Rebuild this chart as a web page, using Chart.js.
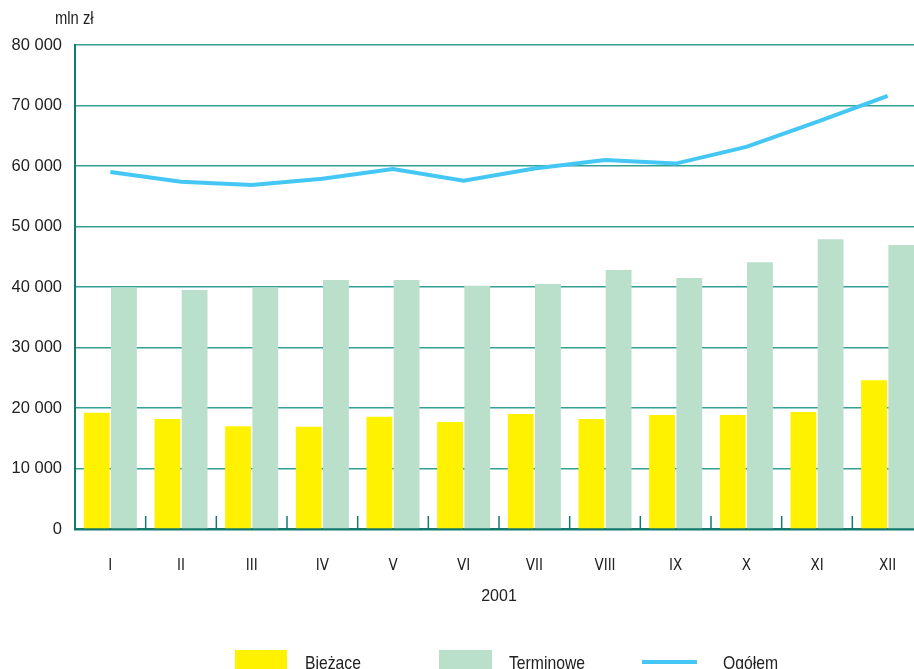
<!DOCTYPE html>
<html>
<head>
<meta charset="utf-8">
<script src="https://cdn.jsdelivr.net/npm/chart.js@4.4.1/dist/chart.umd.min.js"></script>
<style>
  html, body { margin: 0; padding: 0; background: #fff; overflow: hidden; }
  body { width: 914px; height: 669px; position: relative; }
  #wrap { position: absolute; left: 0; top: 0; width: 923px; height: 669px; }
  .narrow { font-family: "Liberation Sans", Arial, sans-serif; color: #222; transform: scaleX(0.82); transform-origin: left top; white-space: nowrap; }
  #unit { position: absolute; left: 55px; top: 9px; font-size: 18px; line-height: 18px; }
  .legend { position: absolute; top: 650px; height: 19px; }
  .ltext { position: absolute; top: 654px; font-size: 18.5px; line-height: 18px; transform: scaleX(0.85); }
</style>
</head>
<body>
<div id="wrap"><canvas id="chart"></canvas></div>
<div id="unit" class="narrow">mln zł</div>
<div class="legend" style="left:235px;width:52px;background:#fff200"></div>
<div class="ltext narrow" style="left:305px">Bieżące</div>
<div class="legend" style="left:439px;width:53px;background:#bae0cc"></div>
<div class="ltext narrow" style="left:509px">Terminowe</div>
<div class="legend" style="left:642px;width:55px;top:660px;height:4px;background:#44c7f4"></div>
<div class="ltext narrow" style="left:723px">Ogółem</div>
<script>
const months = ['I', 'II', 'III', 'IV', 'V', 'VI', 'VII', 'VIII', 'IX', 'X', 'XI', 'XII'];
const biezace = [19200, 18200, 17000, 16900, 18550, 17700, 19000, 18200, 18850, 18850, 19350, 24600];
const terminowe = [39900, 39500, 39900, 41150, 41150, 40200, 40500, 42800, 41500, 44100, 47900, 46950];
const ogolem = [59000, 57400, 56850, 57900, 59500, 57550, 59600, 61000, 60400, 63150, 67300, 71600];
const yearLabel = '2001';

const teal = '#34a096';
const tealDark = '#12796c';

function fmt(v) {
  return String(v).replace(/\B(?=(\d{3})+(?!\d))/g, ' ');
}

// small upward ticks between the months
const monthTicks = {
  id: 'monthTicks',
  beforeDatasetsDraw(chart) {
    const x = chart.scales.x;
    const bottom = chart.chartArea.bottom;
    const ctx = chart.ctx;
    ctx.save();
    ctx.strokeStyle = tealDark;
    ctx.lineWidth = 1.5;
    for (let i = 1; i <= months.length; i++) {
      const px = x.getPixelForValue(i - 0.5);
      ctx.beginPath();
      ctx.moveTo(px, bottom);
      ctx.lineTo(px, bottom - 13);
      ctx.stroke();
    }
    ctx.restore();
  }
};

const ctx = document.getElementById('chart').getContext('2d');
new Chart(ctx, {
  type: 'bar',
  data: {
    labels: months,
    datasets: [
      {
        type: 'line',
        label: 'Ogółem',
        data: ogolem,
        borderColor: '#44c7f4',
        borderWidth: 4,
        pointRadius: 0,
        tension: 0,
        order: 0
      },
      {
        label: 'Bieżące',
        data: biezace,
        backgroundColor: '#fff200',
        categoryPercentage: 0.77,
        barPercentage: 0.95,
        order: 1
      },
      {
        label: 'Terminowe',
        data: terminowe,
        backgroundColor: '#bae0cc',
        categoryPercentage: 0.77,
        barPercentage: 0.95,
        order: 1
      }
    ]
  },
  options: {
    responsive: true,
    maintainAspectRatio: false,
    animation: false,
    layout: { padding: { top: 45, right: 0, bottom: 63, left: 0 } },
    plugins: {
      legend: { display: false },
      tooltip: { enabled: false }
    },
    scales: {
      x: {
        offset: true,
        grid: { display: false },
        border: { display: true, color: tealDark, width: 2.5 },
        ticks: {
          color: '#222',
          padding: 20,
          font: { family: '"DejaVu Sans Condensed", sans-serif', size: 15 }
        },
        title: {
          display: true,
          text: yearLabel,
          color: '#222',
          padding: 0,
          font: { family: '"Liberation Sans", Arial, sans-serif', size: 16 }
        },
        afterFit(scale) { scale.height = 77; }
      },
      y: {
        min: 0,
        max: 80000,
        ticks: {
          stepSize: 10000,
          padding: 13,
          color: '#222',
          font: { family: '"Liberation Sans", Arial, sans-serif', size: 16.5 },
          callback: (v) => fmt(v)
        },
        grid: { color: teal, lineWidth: 1.5, drawTicks: false },
        border: { display: true, color: tealDark, width: 2 },
        afterFit(scale) { scale.width = 75; }
      }
    }
  },
  plugins: [monthTicks]
});
</script>
</body>
</html>
